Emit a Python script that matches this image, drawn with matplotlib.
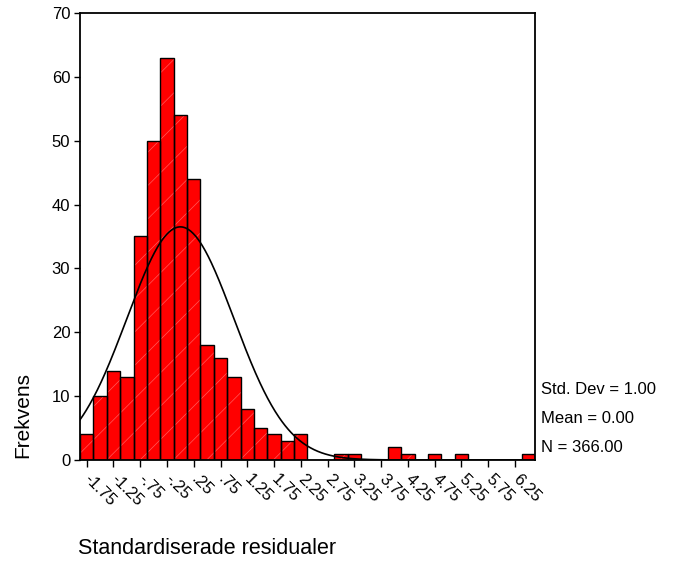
import numpy as np
import matplotlib
matplotlib.use("Agg")
import matplotlib.pyplot as plt
from matplotlib.transforms import ScaledTranslation

plt.rcParams['font.family'] = ['Liberation Sans', 'DejaVu Sans']
plt.rcParams['hatch.linewidth'] = 0.5

# Histogram of standardized residuals (bin width 0.25)
bin_centers = np.arange(34) * 0.25 - 1.75
counts = [4, 10, 14, 13, 35, 50, 63, 54, 44, 18, 16, 13, 8, 5, 4, 3, 4,
          0, 0, 1, 1, 0, 0, 2, 1, 0, 1, 0, 1, 0, 0, 0, 0, 1]
tick_labels = ["-1.75", "-1.25", "-.75", "-.25", ".25", ".75", "1.25", "1.75",
               "2.25", "2.75", "3.25", "3.75", "4.25", "4.75", "5.25", "5.75", "6.25"]
stats = ["Std. Dev = 1.00", "Mean = 0.00", "N = 366.00"]
n_obs = 366
mean, sd = 0.0, 1.0
width = 0.25

fig = plt.figure(figsize=(6.75, 5.63), dpi=100)
ax = fig.add_axes([0.1185, 0.183, 0.6741, 0.794])

# red fill with the faint diagonal streaks, then black outlines on top
ax.bar(bin_centers, counts, width=width, color="#ff0000", edgecolor="#ff5a5a",
       linewidth=0, hatch="/")
ax.bar(bin_centers, counts, width=width, fill=False, edgecolor="black", linewidth=1.0)

# Normal curve
xs = np.linspace(bin_centers[0] - width / 2, bin_centers[-1] + width / 2, 600)
ys = n_obs * width * np.exp(-0.5 * ((xs - mean) / sd) ** 2) / (sd * np.sqrt(2 * np.pi))
ax.plot(xs, ys, color="black", linewidth=1.2)

ax.set_xlim(bin_centers[0] - width / 2, bin_centers[-1] + width / 2)
ax.set_ylim(0, 70)
ax.set_yticks(range(0, 71, 10))
ax.set_xticks(bin_centers[::2])
ax.set_xticklabels(tick_labels, rotation=-45, ha="left", va="center",
                   rotation_mode="anchor", fontsize=12)
shift = ScaledTranslation(8 / 72, 0, fig.dpi_scale_trans)
for lab in ax.get_xticklabels():
    lab.set_transform(lab.get_transform() + shift)
ax.tick_params(axis="x", length=5, width=1, pad=7)
ax.tick_params(axis="y", length=4, width=1, labelsize=12, pad=3)
for s in ax.spines.values():
    s.set_linewidth(1.3)

for i, t in enumerate(stats):
    fig.text(541 / 675, 1 - (390 + 28.5 * i) / 563, t, fontsize=12, va="center", ha="left")

fig.text(23 / 675, 1 - 415 / 563, "Frekvens", rotation=90, fontsize=15, va="center", ha="center")
fig.text(78 / 675, 1 - 549 / 563, "Standardiserade residualer", fontsize=15.5, va="center", ha="left")

fig.savefig("out.png", dpi=100)
